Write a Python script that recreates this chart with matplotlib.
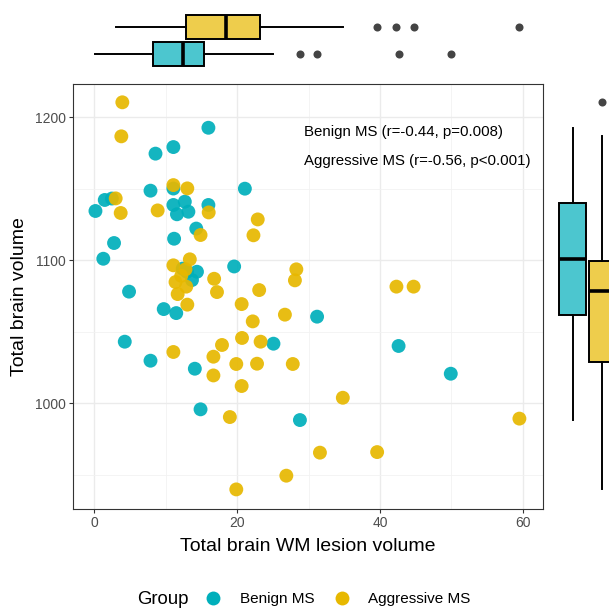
import matplotlib
matplotlib.use("Agg")
import matplotlib.pyplot as plt
from matplotlib.lines import Line2D
from matplotlib.ticker import MultipleLocator

plt.rcParams['font.family'] = ['Liberation Sans', 'DejaVu Sans']

groups = ["Benign MS", "Aggressive MS"]
colors = ["#00AFBB", "#E7B800"]

benign_lesion = [16.0, 11.1, 8.6, 7.9, 11.1, 21.1, 1.5, 2.5, 0.2, 11.1, 12.7, 16.0,
                 13.2, 11.6, 14.3, 11.2, 2.8, 1.3, 19.6, 13.0, 14.4, 13.7, 12.4, 4.9,
                 9.75, 11.5, 4.3, 7.9, 14.1, 25.1, 14.9, 28.8, 31.2, 42.6, 49.9]
benign_volume = [1192.5, 1179.0, 1174.4, 1148.5, 1150.0, 1149.9, 1142.0, 1143.0, 1134.3,
                 1138.5, 1140.8, 1138.5, 1133.8, 1132.0, 1122.0, 1114.9, 1111.9, 1100.9,
                 1095.5, 1091.8, 1091.8, 1086.0, 1094.0, 1077.9, 1065.7, 1062.9, 1042.9,
                 1029.6, 1024.0, 1041.5, 995.6, 988.1, 1060.4, 1039.9, 1020.5]

aggr_lesion = [3.96, 3.82, 11.1, 13.05, 3.03, 3.73, 8.9, 16.04, 22.9, 14.9, 22.3, 13.4,
               11.1, 12.8, 16.8, 11.4, 12.9, 17.2, 11.7, 13.05, 23.1, 20.65, 22.2, 26.7,
               28.3, 28.1, 20.7, 23.3, 17.9, 11.1, 16.7, 19.9, 22.8, 27.8, 16.7, 20.65,
               19.0, 26.9, 19.9, 42.3, 44.7, 34.8, 31.6, 39.6, 59.5, 12.2]
aggr_volume = [1210.3, 1186.5, 1152.4, 1150.1, 1143.1, 1132.9, 1134.7, 1133.3, 1128.4,
               1117.5, 1117.3, 1100.5, 1096.3, 1093.5, 1086.9, 1084.6, 1081.4, 1077.6,
               1076.2, 1068.8, 1079.0, 1069.2, 1057.1, 1061.8, 1093.5, 1085.8, 1045.5,
               1042.9, 1040.6, 1035.7, 1032.4, 1027.3, 1027.5, 1027.3, 1019.3, 1011.9,
               990.2, 949.2, 939.6, 1081.4, 1081.4, 1003.7, 965.3, 965.7, 989.1, 1089.0]

annotations = ["Benign MS (r=-0.44, p=0.008)", "Aggressive MS (r=-0.56, p<0.001)"]
annot_x = 29.4
annot_y = [1189.7, 1169.4]

x_ticks = [0, 20, 40, 60]
y_ticks = [1000, 1100, 1200]

W, H = 609, 608
fig = plt.figure(figsize=(W / 100, H / 100), dpi=100)


def rect(l, t, r, b):
    return [l / W, 1 - b / H, (r - l) / W, (b - t) / H]


ax = fig.add_axes(rect(73, 84, 543, 509))
axt = fig.add_axes(rect(73, 0, 543, 78))
axr = fig.add_axes(rect(548, 84, 648, 509))

xlim = (-2.94, 62.8)
ylim = (925.9, 1223.1)

# main scatter
ax.set_axisbelow(True)
ax.scatter(benign_lesion, benign_volume, s=100, color=colors[0], alpha=0.92,
           edgecolors='none', zorder=3)
ax.scatter(aggr_lesion, aggr_volume, s=100, color=colors[1], alpha=0.92,
           edgecolors='none', zorder=3)
ax.set_xlim(*xlim)
ax.set_ylim(*ylim)
ax.set_xticks(x_ticks)
ax.set_yticks(y_ticks)
ax.xaxis.set_minor_locator(MultipleLocator(10))
ax.yaxis.set_minor_locator(MultipleLocator(50))
ax.grid(True, which='major', color='#EBEBEB', lw=1.0)
ax.grid(True, which='minor', color='#F2F2F2', lw=0.6)
ax.tick_params(which='minor', length=0)
ax.tick_params(which='major', length=3, width=0.8, color='#333333',
               labelsize=10, labelcolor='#4D4D4D', pad=2)
for sp in ax.spines.values():
    sp.set_color('#333333')
    sp.set_linewidth(0.8)
ax.set_xlabel("Total brain WM lesion volume", fontsize=14, labelpad=6)
ax.set_ylabel("Total brain volume", fontsize=14, labelpad=5)

for txt, yy in zip(annotations, annot_y):
    ax.text(annot_x, yy, txt, fontsize=10.8, ha='left', va='center', color='black')

# marginal boxplots
box_kw = dict(patch_artist=True, whis=1.5, widths=0.9,
              medianprops=dict(color='black', lw=2.6),
              whiskerprops=dict(color='black', lw=1.4),
              capprops=dict(lw=0),
              boxprops=dict(edgecolor='black', lw=1.4),
              flierprops=dict(marker='o', markerfacecolor='#444444',
                              markeredgecolor='none', markersize=5.8))

bt = axt.boxplot([benign_lesion, aggr_lesion], positions=[1, 2],
                 orientation='horizontal', **box_kw)
for patch, c in zip(bt['boxes'], colors):
    patch.set_facecolor(matplotlib.colors.to_rgba(c, 0.7))
axt.set_xlim(*xlim)
axt.set_ylim(0.111, 3.0)
axt.axis('off')

br = axr.boxplot([benign_volume, aggr_volume], positions=[1, 2], **box_kw)
for patch, c in zip(br['boxes'], colors):
    patch.set_facecolor(matplotlib.colors.to_rgba(c, 0.7))
axr.set_ylim(*ylim)
axr.set_xlim(0.183, 3.517)
axr.axis('off')

# legend
fig.text(137 / W, 9 / H, "Group", fontsize=13.4, ha='left', va='center')
handles = [Line2D([], [], marker='o', ls='none', markersize=10,
                  markerfacecolor=c, markeredgecolor='none') for c in colors]
fig.legend(handles, groups, loc='center left', bbox_to_anchor=(205.4 / W, 9 / H),
           ncol=2, frameon=False, fontsize=11, handlelength=1.0,
           handletextpad=1.26, columnspacing=1.27, borderpad=0, borderaxespad=0)

fig.savefig("out.png", dpi=100)
